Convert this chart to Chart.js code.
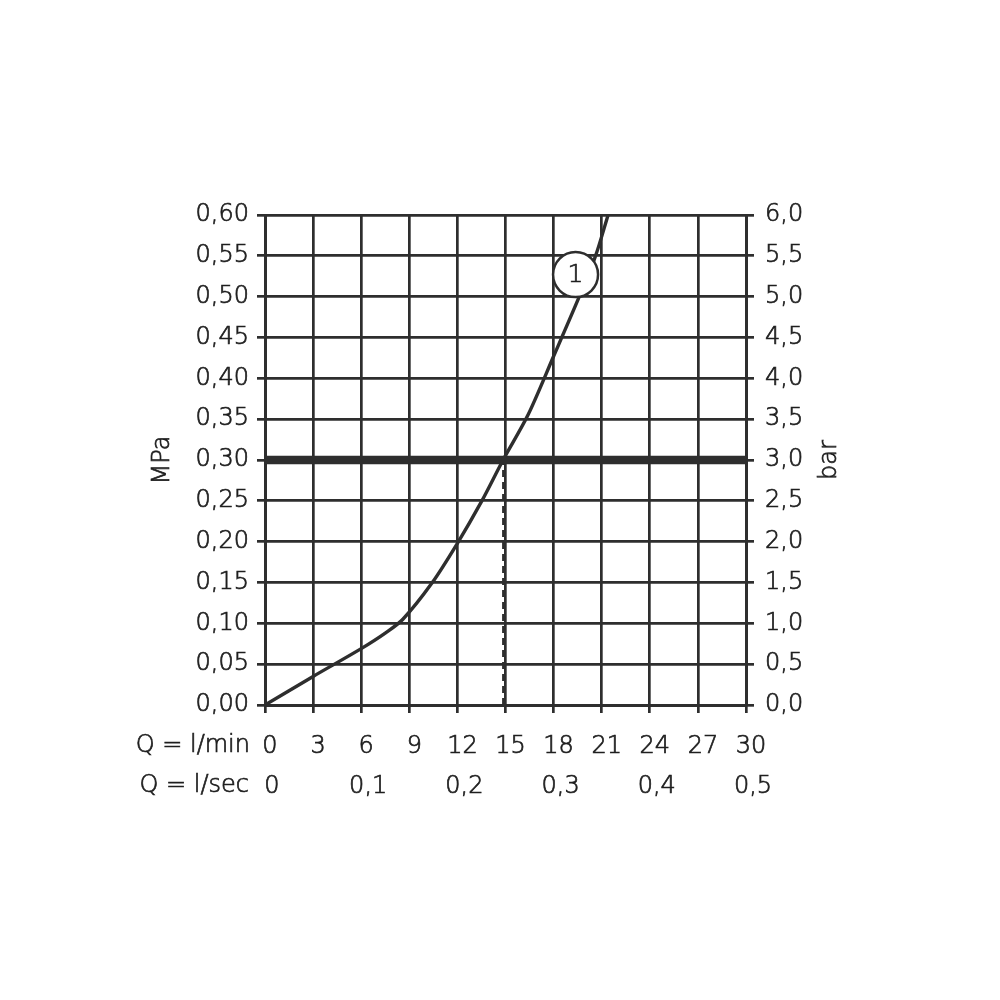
<!DOCTYPE html>
<html><head><meta charset="utf-8">
<script src="https://cdn.jsdelivr.net/npm/chart.js@4.4.1/dist/chart.umd.min.js"></script>
<style>html,body{margin:0;padding:0;background:#fff;} #wrap{width:1000px;height:1000px;}</style>
</head><body><div id="wrap"><canvas id="c" width="1000" height="1000"></canvas></div>
<script>
// ---- data ----
const flowLmin    = [0, 3, 6, 7.5, 8.6, 10.4, 12, 13.5, 14.85, 16.4, 18, 19.6, 20.6, 21.4];
const pressureMPa = [0, 0.035, 0.069, 0.088, 0.105, 0.149, 0.198, 0.249, 0.30, 0.355, 0.427, 0.50, 0.549, 0.60];
const operatingPressureMPa = 0.30;
const operatingFlowLmin = 14.85;
const curveLabel = '1';
const curveLabelX = 19.37;
const curveLabelY = 0.527;
const xTickValues = [0, 3, 6, 9, 12, 15, 18, 21, 24, 27, 30];
const mpaTickValues = [0, 0.05, 0.10, 0.15, 0.20, 0.25, 0.30, 0.35, 0.40, 0.45, 0.50, 0.55, 0.60];
const barTickValues = [0, 0.5, 1, 1.5, 2, 2.5, 3, 3.5, 4, 4.5, 5, 5.5, 6];
const lsecTickValues = [0, 6, 12, 18, 24, 30];
const lsecTickLabels = ['0', '0,1', '0,2', '0,3', '0,4', '0,5'];
const leftTitle = 'MPa';
const rightTitle = 'bar';
const row1Prefix = 'Q = l/min';
const row2Prefix = 'Q = l/sec';

const INK = '#2e2e2e';
const TXT = '#1e1e1e';
const FONT = '"DejaVu Sans", "Liberation Sans", sans-serif';
const FSIZE = 24;
const FWEIGHT = 200;
const STROKE = 0.7;

const curveData = flowLmin.map((x, i) => ({x: x, y: pressureMPa[i]}));

function strokeFill(ctx, t, x, y) {
  ctx.strokeText(t, x, y);
  ctx.fillText(t, x, y);
}

const textPlugin = {
  id: 'texts',
  afterDatasetsDraw(chart) {
    const ctx = chart.ctx;
    const xs = chart.scales.x, ys = chart.scales.y;
    ctx.save();
    ctx.fillStyle = TXT; ctx.strokeStyle = TXT; ctx.lineWidth = STROKE;
    ctx.font = `${FWEIGHT} ${FSIZE + 1}px ${FONT}`;
    ctx.textAlign = 'center';
    ctx.textBaseline = 'middle';
    strokeFill(ctx, curveLabel, xs.getPixelForValue(curveLabelX), ys.getPixelForValue(curveLabelY) + 1);
    ctx.restore();
  },
  afterDraw(chart) {
    const ctx = chart.ctx;
    const a = chart.chartArea;
    const midY = (a.top + a.bottom) / 2;
    ctx.save();
    ctx.fillStyle = TXT; ctx.strokeStyle = TXT; ctx.lineWidth = STROKE;
    ctx.font = `${FWEIGHT} ${FSIZE}px ${FONT}`;
    ctx.textBaseline = 'middle';
    ctx.textAlign = 'center';
    ctx.save(); ctx.translate(163, midY); ctx.rotate(-Math.PI / 2); strokeFill(ctx, leftTitle, 0, 0); ctx.restore();
    ctx.save(); ctx.translate(830, midY); ctx.rotate(-Math.PI / 2); strokeFill(ctx, rightTitle, 0, 0); ctx.restore();
    ctx.textAlign = 'right';
    strokeFill(ctx, row1Prefix, 250, a.bottom + 41);
    strokeFill(ctx, row2Prefix, 249, a.bottom + 81);
    ctx.restore();
  }
};

const tickFont = {family: FONT, size: FSIZE, weight: FWEIGHT};
const tickBase = {color: TXT, font: tickFont, textStrokeColor: TXT, textStrokeWidth: STROKE, autoSkip: false};

new Chart(document.getElementById('c'), {
  type: 'scatter',
  data: {
    datasets: [
      {
        label: 'marker',
        data: [{x: curveLabelX, y: curveLabelY}],
        pointRadius: 22.5, pointHoverRadius: 22.5,
        pointBackgroundColor: '#ffffff', pointBorderColor: INK, pointBorderWidth: 2.5,
        showLine: false, order: 0
      },
      {
        label: 'curve',
        data: curveData,
        showLine: true, borderColor: INK, borderWidth: 3.4,
        pointRadius: 0, tension: 0.3, order: 1
      },
      {
        label: 'operating',
        data: [{x: 0, y: operatingPressureMPa}, {x: 30, y: operatingPressureMPa}],
        showLine: true, borderColor: INK, borderWidth: 8.5, pointRadius: 0, order: 2
      },
      {
        label: 'drop',
        data: [{x: operatingFlowLmin, y: 0}, {x: operatingFlowLmin, y: operatingPressureMPa}],
        showLine: true, borderColor: INK, borderWidth: 2, borderDash: [7, 5], pointRadius: 0, order: 3
      }
    ]
  },
  options: {
    responsive: false,
    animation: false,
    devicePixelRatio: 1,
    layout: {padding: {top: 215, left: 0, right: 0, bottom: 0}},
    plugins: {legend: {display: false}, tooltip: {enabled: false}},
    scales: {
      x: {
        type: 'linear', position: 'bottom', min: 0, max: 30,
        afterBuildTicks: s => { s.ticks = xTickValues.map(v => ({value: v})); },
        afterFit: s => { s.height = 60; },
        ticks: Object.assign({}, tickBase, {padding: 19, labelOffset: 5, maxRotation: 0,
          callback: v => String(v)}),
        grid: {color: INK, lineWidth: 2.7, tickLength: 8, drawTicks: true},
        border: {color: INK, width: 3}
      },
      x2: {
        type: 'linear', position: 'bottom', min: 0, max: 30,
        afterBuildTicks: s => { s.ticks = lsecTickValues.map(v => ({value: v})); },
        afterFit: s => { s.height = 235; },
        ticks: Object.assign({}, tickBase, {padding: 7, labelOffset: 7, maxRotation: 0,
          callback: (v) => lsecTickLabels[lsecTickValues.indexOf(v)]}),
        grid: {display: false, drawTicks: false, tickLength: 0},
        border: {display: false}
      },
      y: {
        type: 'linear', position: 'left', min: 0, max: 0.6,
        afterBuildTicks: s => { s.ticks = mpaTickValues.map(v => ({value: v})); },
        afterFit: s => { s.width = 265; },
        ticks: Object.assign({}, tickBase, {padding: 8,
          callback: v => v.toFixed(2).replace('.', ',')}),
        grid: {color: INK, lineWidth: 2.7, tickLength: 8, drawTicks: true},
        border: {color: INK, width: 3}
      },
      y2: {
        type: 'linear', position: 'right', min: 0, max: 6,
        afterBuildTicks: s => { s.ticks = barTickValues.map(v => ({value: v})); },
        afterFit: s => { s.width = 254; },
        ticks: Object.assign({}, tickBase, {padding: 11,
          callback: v => v.toFixed(1).replace('.', ',')}),
        grid: {color: INK, lineWidth: 2.7, tickLength: 8, drawTicks: true, drawOnChartArea: false},
        border: {color: INK, width: 3}
      }
    }
  },
  plugins: [textPlugin]
});
</script>
</body></html>
